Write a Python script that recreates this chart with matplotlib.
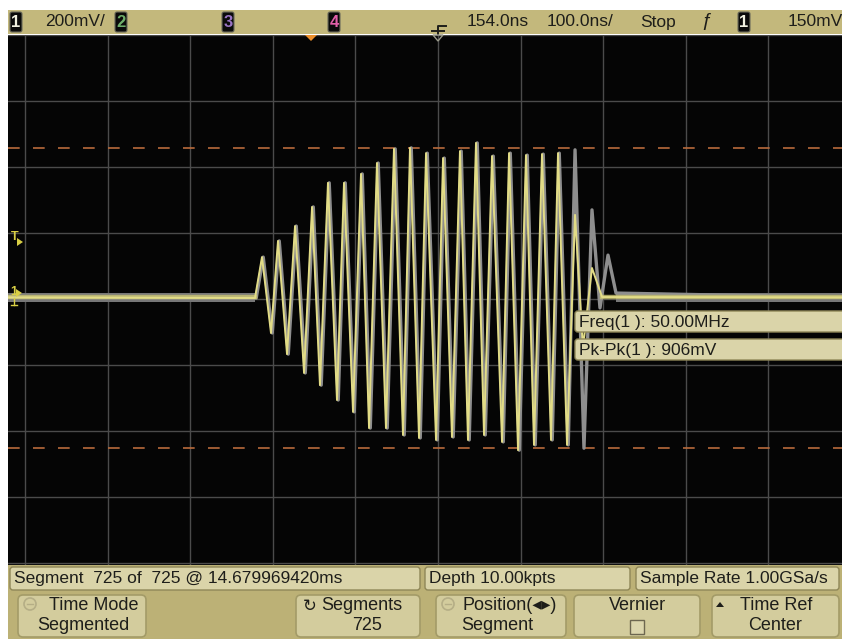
import matplotlib
matplotlib.use("Agg")
import matplotlib.pyplot as plt
from matplotlib.patches import Rectangle, FancyBboxPatch, Polygon

plt.rcParams['font.family'] = ['Liberation Sans', 'DejaVu Sans']

# --- waveform data (time in ns from screen centre, level in mV) ---
burst_t = [-221.6, -213.1, -202.2, -193.7, -182.8, -173.1, -162.2, -152.5, -142.9, -133.2,
           -122.3, -113.8, -102.9, -93.2, -83.5, -73.9, -63.0, -53.3, -42.4, -33.9,
           -23.0, -14.5, -2.4, 6.1, 16.9, 26.6, 36.3, 46.0, 55.7, 65.4,
           77.5, 86.0, 96.9, 106.5, 116.2, 125.9, 136.8, 145.3, 156.2]
burst_mv = [3, 127, -103, 176, -167, 221, -224, 279, -261, 352,
            -306, 352, -342, 379, -391, 412, -391, 455, -412, 458,
            -421, 442, -427, 427, -418, 448, -427, 473, -412, 433,
            -433, 442, -458, 436, -442, 439, -427, 442, -442]
yellow_tail_t = [165.9, 175.5, 186.4, 198.6]
yellow_tail_mv = [255, -148, 94, 6]
gray_tail_t = [165.9, 176.7, 186.4, 196.1, 205.8, 215.5]
gray_tail_mv = [452, -452, 270, -27, 133, 18]

baseline_mv = 5
screen_t = [-520.6, 489.1]
cursor_mv = [457, -452]

top_labels = ["200mV/", "154.0ns", "100.0ns/", "Stop", "150mV"]
status_labels = ["Segment  725 of  725 @ 14.679969420ms", "Depth 10.00kpts", "Sample Rate 1.00GSa/s"]
meas_labels = ["Freq(1 ): 50.00MHz", "Pk-Pk(1 ): 906mV"]

W, H = 842, 639
fig = plt.figure(figsize=(W / 100, H / 100), dpi=100)
fig.patch.set_facecolor('white')

# background / frame axes in pixel coordinates
ui = fig.add_axes([0, 0, 1, 1])
ui.set_xlim(0, W)
ui.set_ylim(H, 0)
ui.axis('off')

tan_bar = '#c3b87c'
tan_low = '#bcb176'
box_fc = '#dad4a9'
box_ec = '#8f8758'
txt = '#1e1e1a'
fs = 12.5

ui.add_patch(Rectangle((8, 10), W - 8, 24, fc=tan_bar, ec='none'))
ui.add_patch(Rectangle((8, 565), W - 8, H - 565, fc=tan_low, ec='none'))

# --- scope screen ---
scr = fig.add_axes([8 / W, (H - 565) / H, (W - 8) / W, (565 - 35) / H])
scr.set_facecolor('#050505')
scr.set_xlim(screen_t[0], screen_t[1])
scr.set_ylim(-806, 800)
for s in scr.spines.values():
    s.set_visible(False)
scr.set_xticks([])
scr.set_yticks([])
for t in range(-500, 500, 100):
    scr.axvline(t, color='#4b4b4b', lw=1, zorder=1)
for v in range(-800, 801, 200):
    scr.axhline(v, color='#4b4b4b', lw=1, zorder=1)
for v in cursor_mv:
    scr.axhline(v, color='#b86b3c', lw=1.2, dashes=(7, 8), zorder=2)

# baseline noise band (gray channel behind, yellow on top)
for seg in ([screen_t[0], burst_t[0]], [gray_tail_t[-1], screen_t[1]]):
    scr.fill_between(seg, baseline_mv - 15, baseline_mv + 13, color='#777777', lw=0, zorder=3)
for seg in ([screen_t[0], burst_t[0]], [yellow_tail_t[-1], screen_t[1]]):
    scr.plot(seg, [baseline_mv, baseline_mv], color='#c9c372', lw=3.2, alpha=0.8, zorder=5)

gray_t = [screen_t[0]] + [t + 1.5 for t in burst_t] + gray_tail_t + [screen_t[1]]
gray_v = [baseline_mv] + burst_mv + gray_tail_mv + [baseline_mv]
scr.plot(gray_t, gray_v, color='#8e8e8e', lw=2.4, zorder=4)

yel_t = [screen_t[0]] + burst_t + yellow_tail_t + [screen_t[1]]
yel_v = [baseline_mv] + burst_mv + yellow_tail_mv + [baseline_mv]
scr.plot(yel_t, yel_v, color='#e2dc86', lw=1.4, zorder=6)

# --- overlay axes for on-screen annotations ---
ov = fig.add_axes([0, 0, 1, 1])
ov.set_xlim(0, W)
ov.set_ylim(H, 0)
ov.axis('off')
ov.patch.set_alpha(0)

# measurement boxes
for i, lab in enumerate(meas_labels):
    y0 = 311 + i * 28
    ov.add_patch(FancyBboxPatch((575, y0), 270, 21, boxstyle='round,pad=0,rounding_size=3',
                                fc=box_fc, ec=box_ec, lw=1))
    ov.text(579, y0 + 11, lab, fontsize=fs, color=txt, va='center', ha='left')

# left markers
yel = '#d9cf45'
ov.text(11, 237, "T", fontsize=9, color=yel, va='center', ha='left', fontweight='bold')
ov.add_patch(Polygon([(17, 238), (17, 246), (23, 242)], closed=True, fc=yel, ec='none'))
ov.text(10, 292, "1", fontsize=9, color=yel, va='center', ha='left', fontweight='bold')
ov.add_patch(Polygon([(16, 289), (16, 297), (22, 293)], closed=True, fc=yel, ec='none'))
ov.plot([14, 14], [298, 305], color=yel, lw=1)
ov.plot([11, 17], [305, 305], color=yel, lw=1)

# --- top status bar ---
def chan_box(x, label, color):
    ui.add_patch(FancyBboxPatch((x, 12), 12, 20, boxstyle='round,pad=0,rounding_size=2',
                                fc='#0a0a0a', ec='#6a6a5a', lw=0.8))
    ui.text(x + 6, 22.5, label, fontsize=12, color=color, va='center', ha='center', fontweight='bold')

chan_box(10, "1", '#f0f0e0')
chan_box(115, "2", '#6fae6a')
chan_box(222, "3", '#9a74c4')
chan_box(328, "4", '#e060a8')
chan_box(738, "1", '#f0f0e0')

ui.text(45, 22, top_labels[0], fontsize=fs, color=txt, va='center', ha='left')
ui.text(467, 22, top_labels[1], fontsize=fs, color=txt, va='center', ha='left')
ui.text(547, 22, top_labels[2], fontsize=fs, color=txt, va='center', ha='left')
ui.text(640, 22, top_labels[3], fontsize=fs, color=txt, va='center', ha='left')
ui.text(788, 22, top_labels[4], fontsize=fs, color=txt, va='center', ha='left')
ui.text(706, 22, "\u0192", fontsize=14, color=txt, va='center', ha='center', style='italic')

# trigger delay marker and position marker
ui.plot([438, 438, 446], [36, 26, 26], color=txt, lw=1.4)
ui.plot([432, 444], [31, 31], color=txt, lw=1.4)
ov.add_patch(Polygon([(433, 35), (443, 35), (438, 41)], closed=True, fc='none', ec='#9a9a8a', lw=1))
ov.add_patch(Polygon([(305, 35), (317, 35), (311, 41)], closed=True, fc='#ec8f2c', ec='none'))

# --- bottom status row ---
status_boxes = [(10, 410), (425, 205), (636, 203)]
for (x0, w), lab in zip(status_boxes, status_labels):
    ui.add_patch(FancyBboxPatch((x0, 567), w, 23, boxstyle='round,pad=0,rounding_size=3',
                                fc=box_fc, ec=box_ec, lw=1))
    ui.text(x0 + 4, 579, lab, fontsize=fs, color=txt, va='center', ha='left')

# --- softkeys ---
buttons = [(18, 128, "Time Mode", 94, "Segmented", 83),
           (296, 124, "Segments", 362, "725", 367),
           (436, 130, "Position(\u25c2\u25b8)", 510, "Segment", 497),
           (574, 126, "Vernier", 637, "", 637),
           (712, 127, "Time Ref", 776, "Center", 775)]
for x0, w, l1, c1, l2, c2 in buttons:
    ui.add_patch(FancyBboxPatch((x0, 595), w, 42, boxstyle='round,pad=0,rounding_size=5',
                                fc='#d3cc9d', ec='#a39b68', lw=1.2))
    ui.text(c1, 606, l1, fontsize=13, color=txt, va='center', ha='center')
    if l2:
        ui.text(c2, 626, l2, fontsize=13, color=txt, va='center', ha='center')

# softkey icons
for cx in (30, 448):
    ui.add_patch(plt.Circle((cx, 604), 6, fc='none', ec='#b5ae86', lw=1.2))
    ui.plot([cx - 3, cx + 3], [604, 604], color='#b5ae86', lw=1)
ui.text(310, 606, "\u21bb", fontsize=12, color=txt, va='center', ha='center', family='DejaVu Sans')
ui.add_patch(Rectangle((630, 620), 14, 14, fc='#dcd6ad', ec='#6d6750', lw=1))
ui.add_patch(Polygon([(716, 607), (724, 607), (720, 602)], closed=True, fc=txt, ec='none'))

fig.savefig("out.png", dpi=100)
